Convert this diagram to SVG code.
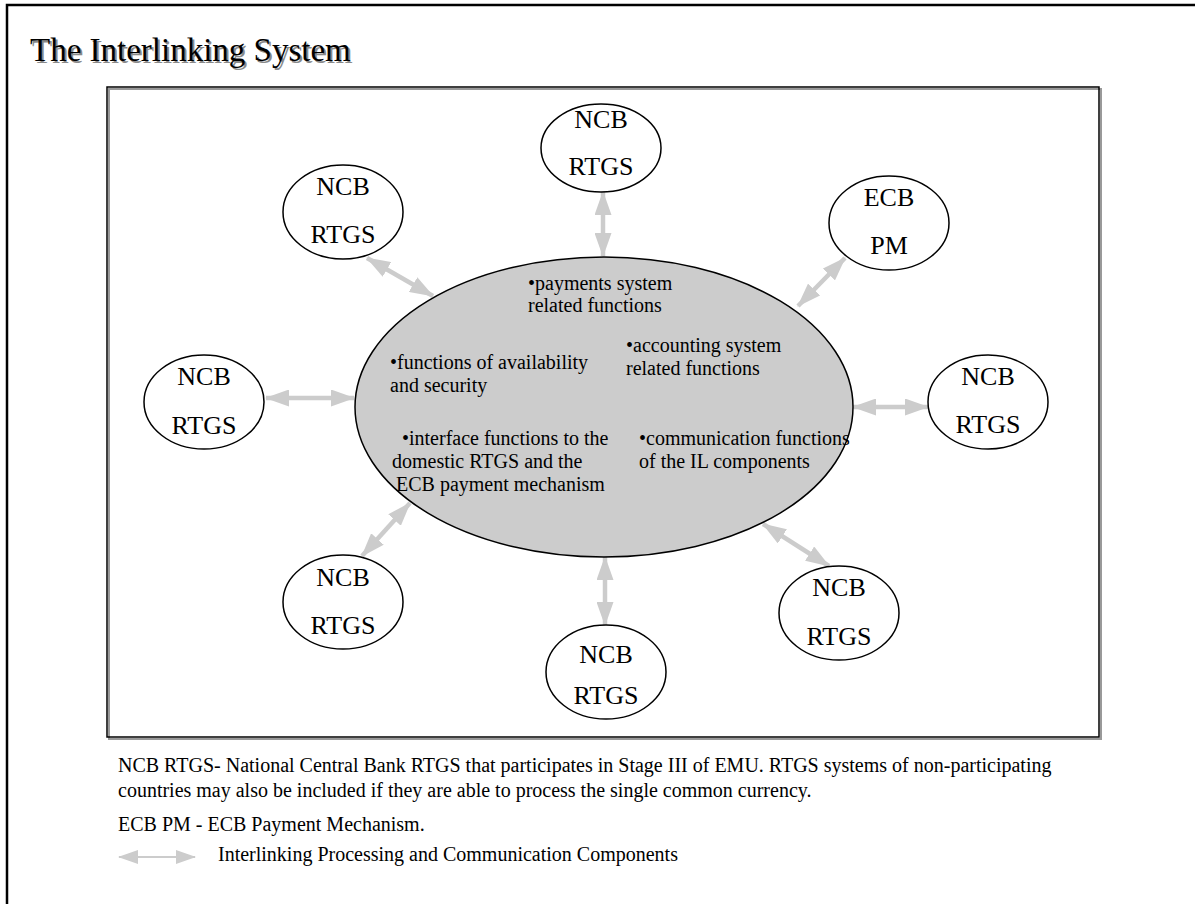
<svg xmlns="http://www.w3.org/2000/svg" width="1195" height="904" viewBox="0 0 1195 904">
<style>
text{font-family:"Liberation Serif","Times New Roman",serif;fill:#000}
.node{fill:#fff;stroke:#000;stroke-width:1.5}
.lbl{font-size:26px;text-anchor:middle}
.inner{font-size:20px}
.note{font-size:20px}
.conn{stroke:#cccccc;stroke-width:4.5;fill:none;marker-start:url(#ah);marker-end:url(#ah)}
</style>
<defs>
<marker id="ah" viewBox="0 0 24 17" refX="23" refY="8.5" markerWidth="24" markerHeight="17" markerUnits="userSpaceOnUse" orient="auto-start-reverse">
<path d="M0,0 L24,8.5 L0,17 z" fill="#cccccc"/>
</marker>
<marker id="ahs" viewBox="0 0 20 14" refX="19" refY="7" markerWidth="20" markerHeight="14" markerUnits="userSpaceOnUse" orient="auto-start-reverse">
<path d="M0,0 L20,7 L0,14 z" fill="#cccccc"/>
</marker>
</defs>
<rect width="1195" height="904" fill="#fff"/>
<rect x="7" y="5" width="1300" height="1000" fill="none" stroke="#000" stroke-width="2.5"/>
<g id="title">
<text x="32" y="63" font-size="33" style="fill:#8a8a8a">The Interlinking System</text>
<text x="30" y="61" font-size="33">The Interlinking System</text>
</g>
<rect x="109" y="89" width="992" height="650" fill="none" stroke="#999" stroke-width="2"/>
<rect x="107" y="87" width="992" height="650" fill="none" stroke="#000" stroke-width="1.5"/>
<g id="connectors">
<line class="conn" x1="603" y1="192" x2="603" y2="256"/>
<line class="conn" x1="367" y1="258" x2="433" y2="296"/>
<line class="conn" x1="845" y1="258" x2="798" y2="306"/>
<line class="conn" x1="266" y1="398" x2="354" y2="398"/>
<line class="conn" x1="853" y1="407" x2="928" y2="407"/>
<line class="conn" x1="410" y1="503" x2="362" y2="556"/>
<line class="conn" x1="605" y1="557" x2="605" y2="625"/>
<line class="conn" x1="763" y1="524" x2="829" y2="566"/>
</g>
<g id="center">
<ellipse cx="604" cy="407" rx="249" ry="150" fill="#cccccc" stroke="#000" stroke-width="1.5"/>
<text class="inner" x="528" y="290">•payments system</text>
<text class="inner" x="528" y="312">related functions</text>
<text class="inner" x="626" y="352">•accounting system</text>
<text class="inner" x="626" y="375">related functions</text>
<text class="inner" x="390" y="369">•functions of availability</text>
<text class="inner" x="390" y="392">and security</text>
<text class="inner" x="402" y="445">•interface functions to the</text>
<text class="inner" x="392" y="468">domestic RTGS and the</text>
<text class="inner" x="396" y="491">ECB payment mechanism</text>
<text class="inner" x="639" y="445">•communication functions</text>
<text class="inner" x="639" y="468">of the IL components</text>
</g>
<g id="n-top"><ellipse class="node" cx="601" cy="148" rx="60" ry="44"/><text class="lbl" x="601" y="128">NCB</text><text class="lbl" x="601" y="175">RTGS</text></g>
<g id="n-ul"><ellipse class="node" cx="343" cy="212" rx="60" ry="47"/><text class="lbl" x="343" y="195">NCB</text><text class="lbl" x="343" y="243">RTGS</text></g>
<g id="n-ecb"><ellipse class="node" cx="889" cy="223" rx="60" ry="47"/><text class="lbl" x="889" y="206">ECB</text><text class="lbl" x="889" y="254">PM</text></g>
<g id="n-l"><ellipse class="node" cx="204" cy="402" rx="60" ry="47"/><text class="lbl" x="204" y="385">NCB</text><text class="lbl" x="204" y="434">RTGS</text></g>
<g id="n-r"><ellipse class="node" cx="988" cy="402" rx="60" ry="47"/><text class="lbl" x="988" y="385">NCB</text><text class="lbl" x="988" y="433">RTGS</text></g>
<g id="n-bl"><ellipse class="node" cx="343" cy="602" rx="60" ry="47"/><text class="lbl" x="343" y="586">NCB</text><text class="lbl" x="343" y="634">RTGS</text></g>
<g id="n-b"><ellipse class="node" cx="606" cy="672" rx="60" ry="47"/><text class="lbl" x="606" y="663">NCB</text><text class="lbl" x="606" y="704">RTGS</text></g>
<g id="n-br"><ellipse class="node" cx="839" cy="613" rx="60" ry="47"/><text class="lbl" x="839" y="596">NCB</text><text class="lbl" x="839" y="645">RTGS</text></g>
<g id="notes">
<text class="note" x="118" y="772">NCB RTGS- National Central Bank RTGS that participates in Stage III of EMU. RTGS systems of non-participating</text>
<text class="note" x="118" y="797">countries may also be included if they are able to process the single common currency.</text>
<text class="note" x="118" y="831">ECB PM - ECB Payment Mechanism.</text>
<line x1="119" y1="857" x2="195" y2="857" stroke="#cccccc" stroke-width="2" marker-start="url(#ahs)" marker-end="url(#ahs)"/>
<text class="note" x="218" y="861">Interlinking Processing and Communication Components</text>
</g>
</svg>
